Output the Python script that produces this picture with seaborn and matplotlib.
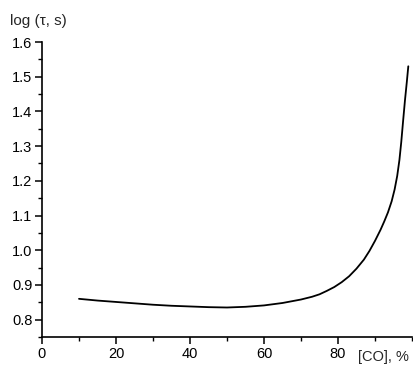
import matplotlib
matplotlib.use("Agg")
import matplotlib.pyplot as plt
import seaborn as sns
import pandas as pd
from matplotlib.ticker import MultipleLocator

co_percent = [10, 15, 20, 25, 30, 35, 40, 45, 50, 55, 60, 65, 70, 73, 75, 77, 79, 81,
              83, 85, 87, 88.5, 90, 91.5, 92.5, 93.5, 94.5, 95.3, 96, 96.6, 97.1,
              97.6, 98.1, 98.6, 99.0]
log_tau = [0.860, 0.855, 0.851, 0.847, 0.843, 0.840, 0.838, 0.836, 0.835, 0.837,
           0.841, 0.848, 0.858, 0.866, 0.873, 0.883, 0.894, 0.908,
           0.925, 0.947, 0.973, 0.998, 1.027, 1.059, 1.083, 1.109, 1.141, 1.175,
           1.214, 1.260, 1.312, 1.373, 1.432, 1.485, 1.530]
x_label = "[CO], %"
y_label = "log (\u03c4, s)"

sns.set_style("ticks")
plt.rcParams['font.family'] = ['Liberation Sans', 'DejaVu Sans']

df = pd.DataFrame({"co": co_percent, "tau": log_tau})

fig = plt.figure(figsize=(4.14, 3.65), dpi=100)
ax = fig.add_axes([42 / 414, 28 / 365, 370 / 414, (337 - 42) / 365])
sns.lineplot(data=df, x="co", y="tau", ax=ax, color="black", linewidth=1.3)
ax.lines[0].set_solid_joinstyle("round")

ax.set_xlim(0, 100)
ax.set_ylim(0.75, 1.6)
ax.xaxis.set_minor_locator(MultipleLocator(10))
ax.yaxis.set_minor_locator(MultipleLocator(0.05))
ax.set_xticks([0, 20, 40, 60, 80])
yt = [0.8, 0.9, 1.0, 1.1, 1.2, 1.3, 1.4, 1.5, 1.6]
ax.set_yticks(yt)
ax.set_yticklabels([f"{v:.1f}" for v in yt])

for s in ["top", "right"]:
    ax.spines[s].set_visible(False)
for s in ["left", "bottom"]:
    ax.spines[s].set_linewidth(1.2)
    ax.spines[s].set_color("black")

ax.tick_params(which="major", direction="out", length=5, width=1.1, labelsize=10.5,
               colors="black", pad=2)
ax.tick_params(which="minor", direction="out", length=3, width=1.0, colors="black")

ax.set_xlabel("")
ax.set_ylabel("")
ax.text(0.855, -0.045, x_label, transform=ax.transAxes, ha="left", va="top", fontsize=10.5)
fig.text(10 / 414, 1 - 21 / 365, y_label, ha="left", va="center", fontsize=11)

fig.savefig("out.png", dpi=100)
